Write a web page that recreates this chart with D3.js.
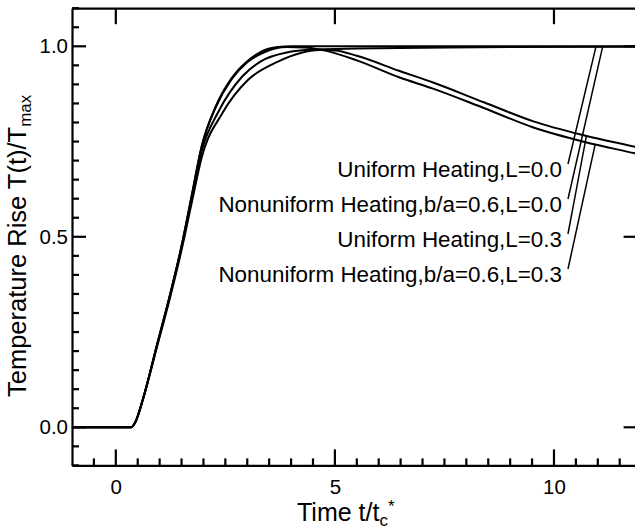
<!DOCTYPE html>
<html>
<head>
<meta charset="utf-8">
<script src="https://cdn.jsdelivr.net/npm/d3@7"></script>
<style>
  body { margin: 0; background: #fff; }
  svg { display: block; font-family: "Liberation Sans", Arial, Helvetica, sans-serif; }
</style>
</head>
<body>
<svg id="chart" width="635" height="532"></svg>
<script>
// each point: [t / tc*, T(t) / Tmax]
const uniformL00 = [[-1, 0], [0.35, 0], [0.45, 0.015], [0.62, 0.075], [0.93, 0.212], [1.23, 0.345], [1.5, 0.476],
  [1.73, 0.607], [1.96, 0.738], [2.28, 0.842], [2.64, 0.916], [3.0, 0.961], [3.3, 0.985], [3.7, 0.998], [4.0, 1.0],
  [5, 1.0], [7, 1.0], [9, 1.0], [12, 1.0]];
const nonuniformL00 = [[-1, 0], [0.35, 0], [0.45, 0.015], [0.62, 0.074], [0.93, 0.21], [1.23, 0.342], [1.5, 0.472],
  [1.73, 0.6], [1.96, 0.725], [2.35, 0.83], [2.88, 0.92], [3.3, 0.96], [3.9, 0.984], [4.6, 0.992], [5.5, 0.994],
  [7, 0.996], [9, 0.998], [12, 0.999]];
const uniformL03 = [[-1, 0], [0.35, 0], [0.45, 0.014], [0.62, 0.073], [0.93, 0.207], [1.23, 0.337], [1.5, 0.465],
  [1.73, 0.588], [1.96, 0.708], [2.43, 0.824], [3.02, 0.912], [3.7, 0.96], [4.2, 0.982], [4.65, 0.99], [5.0, 0.989],
  [5.5, 0.975], [6.48, 0.935], [7.24, 0.905], [8.4, 0.853], [9.53, 0.803], [10.7, 0.766], [11.85, 0.736], [12, 0.732]];
const nonuniformL03 = [[-1, 0], [0.35, 0], [0.45, 0.015], [0.62, 0.075], [0.93, 0.212], [1.23, 0.344], [1.5, 0.475],
  [1.73, 0.606], [1.96, 0.737], [2.28, 0.84], [2.64, 0.913], [3.0, 0.958], [3.4, 0.985], [3.9, 0.998], [4.3, 0.997],
  [4.73, 0.99], [5.5, 0.963], [6.48, 0.918], [7.24, 0.889], [8.4, 0.838], [9.53, 0.787], [10.7, 0.749], [11.85, 0.719],
  [12, 0.715]];

const series = [uniformL00, nonuniformL00, uniformL03, nonuniformL03];
const legendLabels = [
  'Uniform Heating,L=0.0',
  'Nonuniform Heating,b/a=0.6,L=0.0',
  'Uniform Heating,L=0.3',
  'Nonuniform Heating,b/a=0.6,L=0.3'
];
// time on each curve where its leader line ends
const leaderTimes = [10.96, 11.11, 10.74, 10.94];

const xMajorTicks = [0, 5, 10];
const yMajorTicks = [0.0, 0.5, 1.0];

const svg = d3.select('#chart');
const plotLeft = 72, plotTop = 8.2, plotBottom = 465.4;

const x = d3.scaleLinear().domain([-1, 12]).range([plotLeft, 641.6]);
const y = d3.scaleLinear().domain([-0.1, 1.1]).range([plotBottom, plotTop]);
const plotRight = x(12);

svg.append('defs').append('clipPath').attr('id', 'plot-clip')
  .append('rect').attr('x', plotLeft).attr('y', plotTop)
  .attr('width', plotRight - plotLeft).attr('height', plotBottom - plotTop);

// ---- frame + tick labels from d3 axes ----
function styleAxis(g) {
  g.select('.domain').attr('stroke', '#000').attr('stroke-width', 2.2);
  g.selectAll('.tick line').remove();
  g.selectAll('.tick text').attr('fill', '#000').attr('font-size', 20.5);
}

svg.append('g').attr('transform', `translate(0,${plotBottom})`)
  .call(d3.axisBottom(x).tickValues(xMajorTicks).tickSize(0).tickPadding(14).tickFormat(d3.format('d')))
  .call(styleAxis);
svg.append('g').attr('transform', `translate(0,${plotTop})`)
  .call(d3.axisTop(x).tickValues([]).tickSize(0))
  .call(styleAxis);
svg.append('g').attr('transform', `translate(${plotLeft},0)`)
  .call(d3.axisLeft(y).tickValues(yMajorTicks).tickSize(0).tickPadding(4).tickFormat(d3.format('.1f')))
  .call(styleAxis);
svg.append('g').attr('transform', `translate(${plotRight},0)`)
  .call(d3.axisRight(y).tickValues([]).tickSize(0))
  .call(styleAxis);

// ---- inward ticks ----
const xMinor = d3.range(-1, 25).map(i => i * 0.5);
const yMinor = d3.range(-2, 23).map(i => i * 0.05);
const ticks = svg.append('g').attr('stroke', '#000').attr('stroke-width', 2.2);

ticks.selectAll('.xb').data(xMinor).join('line').attr('class', 'xb')
  .attr('x1', d => x(d)).attr('x2', d => x(d))
  .attr('y1', plotBottom).attr('y2', d => plotBottom - (xMajorTicks.includes(d) ? 16 : 7));
ticks.selectAll('.xt').data(xMajorTicks).join('line').attr('class', 'xt')
  .attr('x1', d => x(d)).attr('x2', d => x(d))
  .attr('y1', plotTop).attr('y2', plotTop + 16);
ticks.selectAll('.yl').data(yMinor).join('line').attr('class', 'yl')
  .attr('y1', d => y(d)).attr('y2', d => y(d))
  .attr('x1', plotLeft).attr('x2', d => plotLeft + (yMajorTicks.some(v => Math.abs(v - d) < 1e-9) ? 14 : 7));
ticks.selectAll('.yr').data(yMajorTicks).join('line').attr('class', 'yr')
  .attr('y1', d => y(d)).attr('y2', d => y(d))
  .attr('x1', plotRight).attr('x2', plotRight - 18);

// ---- curves ----
const line = d3.line().x(d => x(d[0])).y(d => y(d[1])).curve(d3.curveMonotoneX);

svg.append('g').attr('clip-path', 'url(#plot-clip)')
  .selectAll('path').data(series).join('path')
  .attr('d', line)
  .attr('fill', 'none')
  .attr('stroke', '#000')
  .attr('stroke-width', 2);

// ---- labels with leader lines ----
function valueAt(data, t) {
  const i = d3.bisector(d => d[0]).left(data, t);
  const a = data[i - 1], b = data[i];
  return a[1] + (b[1] - a[1]) * (t - a[0]) / (b[0] - a[0]);
}

const labelX = 562;
const labels = svg.append('g');
legendLabels.forEach((txt, i) => {
  const base = 177 + i * 35;
  labels.append('text')
    .attr('x', labelX).attr('y', base)
    .attr('text-anchor', 'end')
    .attr('font-size', 22.4)
    .attr('fill', '#000')
    .text(txt);
  const t = leaderTimes[i];
  labels.append('line')
    .attr('x1', labelX + 6).attr('y1', base - 13)
    .attr('x2', x(t)).attr('y2', y(valueAt(series[i], t)))
    .attr('stroke', '#000').attr('stroke-width', 1.5);
});

// ---- axis titles ----
svg.append('text')
  .attr('transform', 'translate(26,397) rotate(-90)')
  .attr('font-size', 25.5)
  .attr('fill', '#000')
  .text('Temperature Rise T(t)/T')
  .append('tspan').attr('font-size', 17).attr('dy', 5).text('max');

const xt = svg.append('text')
  .attr('x', 297).attr('y', 520.5)
  .attr('font-size', 25)
  .attr('fill', '#000')
  .text('Time t/t');
xt.append('tspan').attr('font-size', 17).attr('dy', 5).text('c');
xt.append('tspan').attr('font-size', 17).attr('dy', -14).text('*');
</script>
</body>
</html>
